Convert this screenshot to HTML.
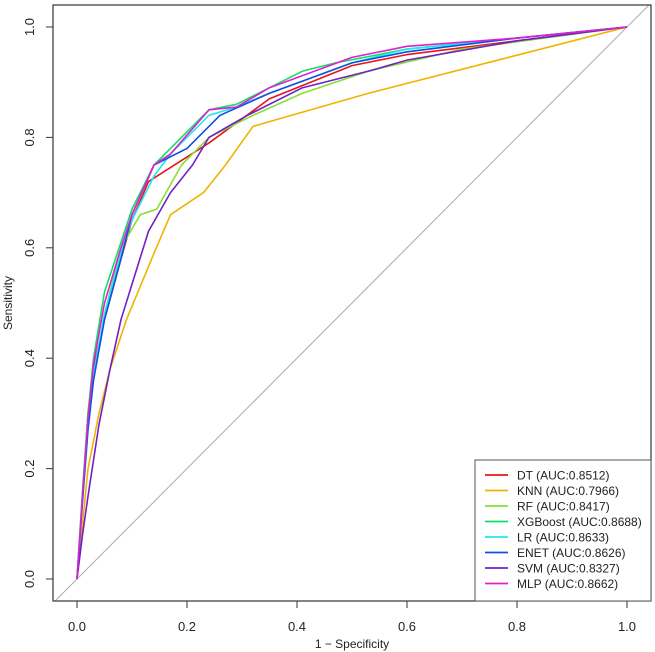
<!DOCTYPE html>
<html><head><meta charset="utf-8"><style>
html,body{margin:0;padding:0;background:#fff;}
svg{display:block;font-family:"Liberation Sans",Arial,sans-serif;}
</style></head><body>
<svg id="chart" width="655" height="652" viewBox="0 0 655 652"></svg>
<script>
const modelNames=["DT","KNN","RF","XGBoost","LR","ENET","SVM","MLP"];
const aucLabels=["0.8512","0.7966","0.8417","0.8688","0.8633","0.8626","0.8327","0.8662"];
const colors=["#e8141c","#f0b400","#88e030","#10e060","#20e8f0","#1050e0","#7020c8","#e020d0"];
const fprDT=[0,0.01,0.02,0.03,0.05,0.08,0.1,0.13,0.24,0.35,0.5,0.6,0.8,1];
const tprDT=[0,0.15,0.3,0.38,0.47,0.58,0.65,0.72,0.79,0.87,0.93,0.95,0.975,1];
const fprKNN=[0,0.01,0.02,0.04,0.06,0.09,0.14,0.17,0.23,0.27,0.32,0.53,1];
const tprKNN=[0,0.1,0.2,0.3,0.38,0.47,0.59,0.66,0.70,0.75,0.82,0.88,1];
const fprRF=[0,0.01,0.02,0.05,0.08,0.115,0.145,0.19,0.24,0.32,0.41,0.53,0.7,1];
const tprRF=[0,0.15,0.3,0.48,0.6,0.66,0.67,0.75,0.80,0.84,0.88,0.92,0.96,1];
const fprXGB=[0,0.01,0.02,0.03,0.05,0.08,0.1,0.14,0.17,0.24,0.29,0.35,0.41,0.47,0.6,0.8,1];
const tprXGB=[0,0.16,0.3,0.4,0.52,0.61,0.67,0.75,0.78,0.85,0.86,0.89,0.92,0.935,0.96,0.98,1];
const fprLR=[0,0.01,0.02,0.03,0.05,0.08,0.1,0.14,0.17,0.24,0.29,0.35,0.5,0.6,0.8,1];
const tprLR=[0,0.15,0.28,0.37,0.48,0.59,0.65,0.73,0.77,0.84,0.855,0.88,0.935,0.96,0.98,1];
const fprENET=[0,0.01,0.02,0.03,0.05,0.08,0.1,0.14,0.2,0.26,0.35,0.5,0.6,0.8,1];
const tprENET=[0,0.14,0.27,0.36,0.47,0.58,0.66,0.75,0.78,0.84,0.88,0.935,0.955,0.98,1];
const fprSVM=[0,0.01,0.02,0.04,0.06,0.08,0.13,0.17,0.21,0.24,0.31,0.41,0.53,0.6,0.8,1];
const tprSVM=[0,0.08,0.15,0.28,0.38,0.47,0.63,0.70,0.75,0.80,0.84,0.89,0.92,0.94,0.975,1];
const fprMLP=[0,0.01,0.02,0.03,0.05,0.08,0.1,0.14,0.17,0.24,0.29,0.35,0.5,0.6,0.8,1];
const tprMLP=[0,0.15,0.29,0.39,0.5,0.6,0.66,0.75,0.77,0.85,0.855,0.89,0.945,0.965,0.98,1];
const seriesX=[fprDT,fprKNN,fprRF,fprXGB,fprLR,fprENET,fprSVM,fprMLP];
const seriesY=[tprDT,tprKNN,tprRF,tprXGB,tprLR,tprENET,tprSVM,tprMLP];
const ticks=[0,0.2,0.4,0.6,0.8,1.0];
const tickLabels=["0.0","0.2","0.4","0.6","0.8","1.0"];

const NS="http://www.w3.org/2000/svg";
const svg=document.getElementById("chart");
const X0=77,X1=627,Y0=579,Y1=27;
const sx=v=>X0+(X1-X0)*v, sy=v=>Y0-(Y0-Y1)*v;
function mk(tag,attrs,parent){const e=document.createElementNS(NS,tag);for(const k in attrs)e.setAttribute(k,attrs[k]);(parent||svg).appendChild(e);return e;}
const cp=mk("clipPath",{id:"clip"});
mk("rect",{x:53,y:5,width:598,height:596},cp);
const diag=mk("line",{x1:sx(-0.05),y1:sy(-0.05),x2:sx(1.05),y2:sy(1.05),stroke:"#aaa","stroke-width":1,"clip-path":"url(#clip)"});


seriesX.forEach((xs,i)=>{
  const p=mk("polyline",{points:xs.map((x,j)=>sx(x)+","+sy(seriesY[i][j])).join(" "),fill:"none",stroke:colors[i],"stroke-width":1.6,"stroke-linejoin":"round"});
  
  
});
const box=mk("rect",{x:53,y:5,width:598,height:596,fill:"none",stroke:"#333","stroke-width":1.2});


ticks.forEach((t,i)=>{
  const xt=mk("line",{x1:sx(t),y1:601,x2:sx(t),y2:608,stroke:"#333"});
  
  
  const xl=mk("text",{x:sx(t),y:631,"text-anchor":"middle","font-size":13,fill:"#222"});xl.textContent=tickLabels[i];
  
  
  const yt=mk("line",{x1:46,y1:sy(t),x2:53,y2:sy(t),stroke:"#333"});
  
  
  const yl=mk("text",{x:34,y:sy(t),"text-anchor":"middle","font-size":13,fill:"#222",transform:"rotate(-90 34 "+sy(t)+")"});yl.textContent=tickLabels[i];
  
  
});
const xt=mk("text",{x:352,y:648,"text-anchor":"middle","font-size":12,fill:"#222"});xt.textContent="1 − Specificity";


const yt=mk("text",{x:12,y:303,"text-anchor":"middle","font-size":12,fill:"#222",transform:"rotate(-90 12 303)"});yt.textContent="Sensitivity";


const lg=mk("g",{});


mk("rect",{x:475,y:460,width:176,height:141,fill:"#fff",stroke:"#555","stroke-width":1},lg);
modelNames.forEach((n,i)=>{
  const y=475+i*15.5;
  const e=mk("g",{},lg);
  
  
  mk("line",{x1:485,y1:y,x2:508,y2:y,stroke:colors[i],"stroke-width":1.8},e);
  const t=mk("text",{x:517,y:y+4.5,"font-size":12,fill:"#222"},e);t.textContent=n+" (AUC:"+aucLabels[i]+")";
});
</script>
</body></html>
